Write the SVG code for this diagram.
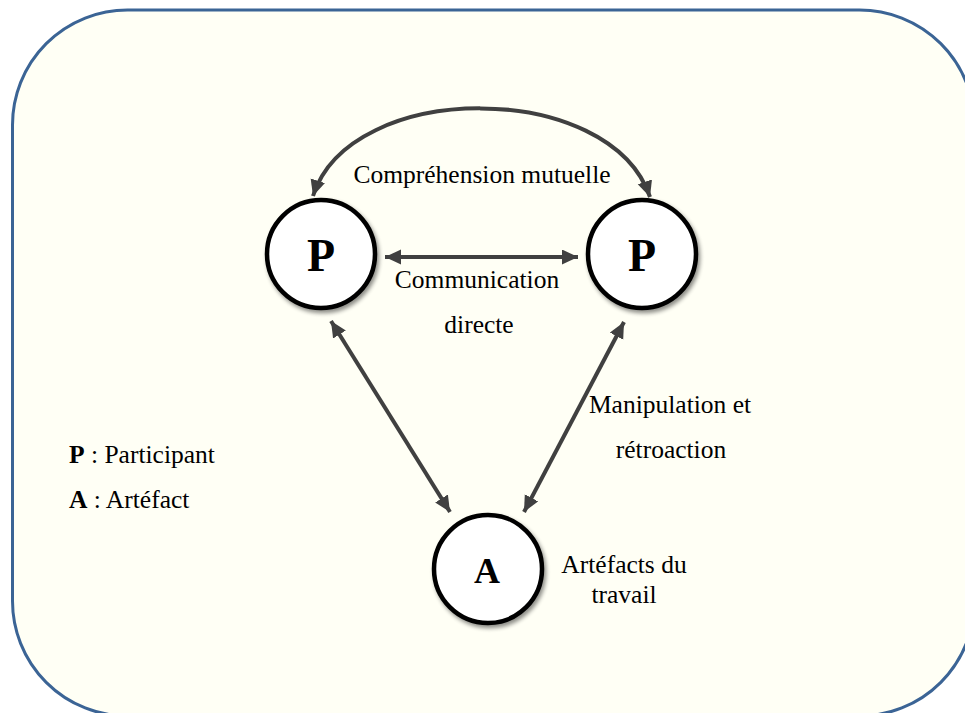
<svg xmlns="http://www.w3.org/2000/svg" width="965" height="713" viewBox="0 0 965 713">
  <style>
    .lbl { font-family: "Liberation Serif", "Times New Roman", serif; font-size: 25.5px; fill: #000; }
    .node circle { fill: #fff; stroke: #000; stroke-width: 4.5; }
    .node text { font-family: "Liberation Serif", "Times New Roman", serif; font-weight: bold; fill: #000; text-anchor: middle; }
    .edge { fill: none; stroke: #404040; stroke-width: 4; marker-start: url(#ah); marker-end: url(#ah); }
  </style>
  <defs>
    <marker id="ah" markerUnits="userSpaceOnUse" markerWidth="18" markerHeight="16" refX="16" refY="7.5" orient="auto-start-reverse" viewBox="0 0 18 16">
      <path d="M0,0 L16,7.5 L0,15 Z" fill="#404040"/>
    </marker>
    <filter id="sh" x="-20%" y="-20%" width="150%" height="150%">
      <feGaussianBlur in="SourceAlpha" stdDeviation="2"/>
      <feOffset dx="2" dy="3" result="b"/>
      <feComponentTransfer><feFuncA type="linear" slope="0.45"/></feComponentTransfer>
      <feMerge><feMergeNode/><feMergeNode in="SourceGraphic"/></feMerge>
    </filter>
  </defs>
  <rect x="0" y="0" width="965" height="713" fill="#ffffff"/>
  <rect id="frame" x="12.5" y="10" width="962" height="706" rx="115" ry="115" fill="#fffff5" stroke="#3b6495" stroke-width="3"/>

  <g id="connectors">
    <path class="edge" d="M313,196 C350,79 610,79 650,197"/>
    <path class="edge" d="M385,257 L578,257"/>
    <path class="edge" d="M331,321 L450,512"/>
    <path class="edge" d="M624,322 L524,512"/>
  </g>

  <g id="node-p1" class="node">
    <circle cx="321" cy="254" r="54" filter="url(#sh)"/>
    <text x="321" y="271" font-size="46">P</text>
  </g>
  <g id="node-p2" class="node">
    <circle cx="642" cy="254" r="54" filter="url(#sh)"/>
    <text x="642" y="271" font-size="46">P</text>
  </g>
  <g id="node-a" class="node">
    <circle cx="488" cy="569" r="54" filter="url(#sh)"/>
    <text x="487" y="583" font-size="36">A</text>
  </g>

  <g id="labels">
    <text class="lbl" x="482" y="183" text-anchor="middle">Compréhension mutuelle</text>
    <text class="lbl" x="477" y="288" text-anchor="middle">Communication</text>
    <text class="lbl" x="479" y="333" text-anchor="middle">directe</text>
    <text class="lbl" x="670" y="413" text-anchor="middle">Manipulation et</text>
    <text class="lbl" x="671" y="458" text-anchor="middle">rétroaction</text>
    <text class="lbl" x="624" y="573" text-anchor="middle">Artéfacts du</text>
    <text class="lbl" x="624" y="603" text-anchor="middle">travail</text>
    <text class="lbl" x="69" y="463"><tspan font-weight="bold">P</tspan> : Participant</text>
    <text class="lbl" x="69" y="508"><tspan font-weight="bold">A</tspan> : Artéfact</text>
  </g>
</svg>
